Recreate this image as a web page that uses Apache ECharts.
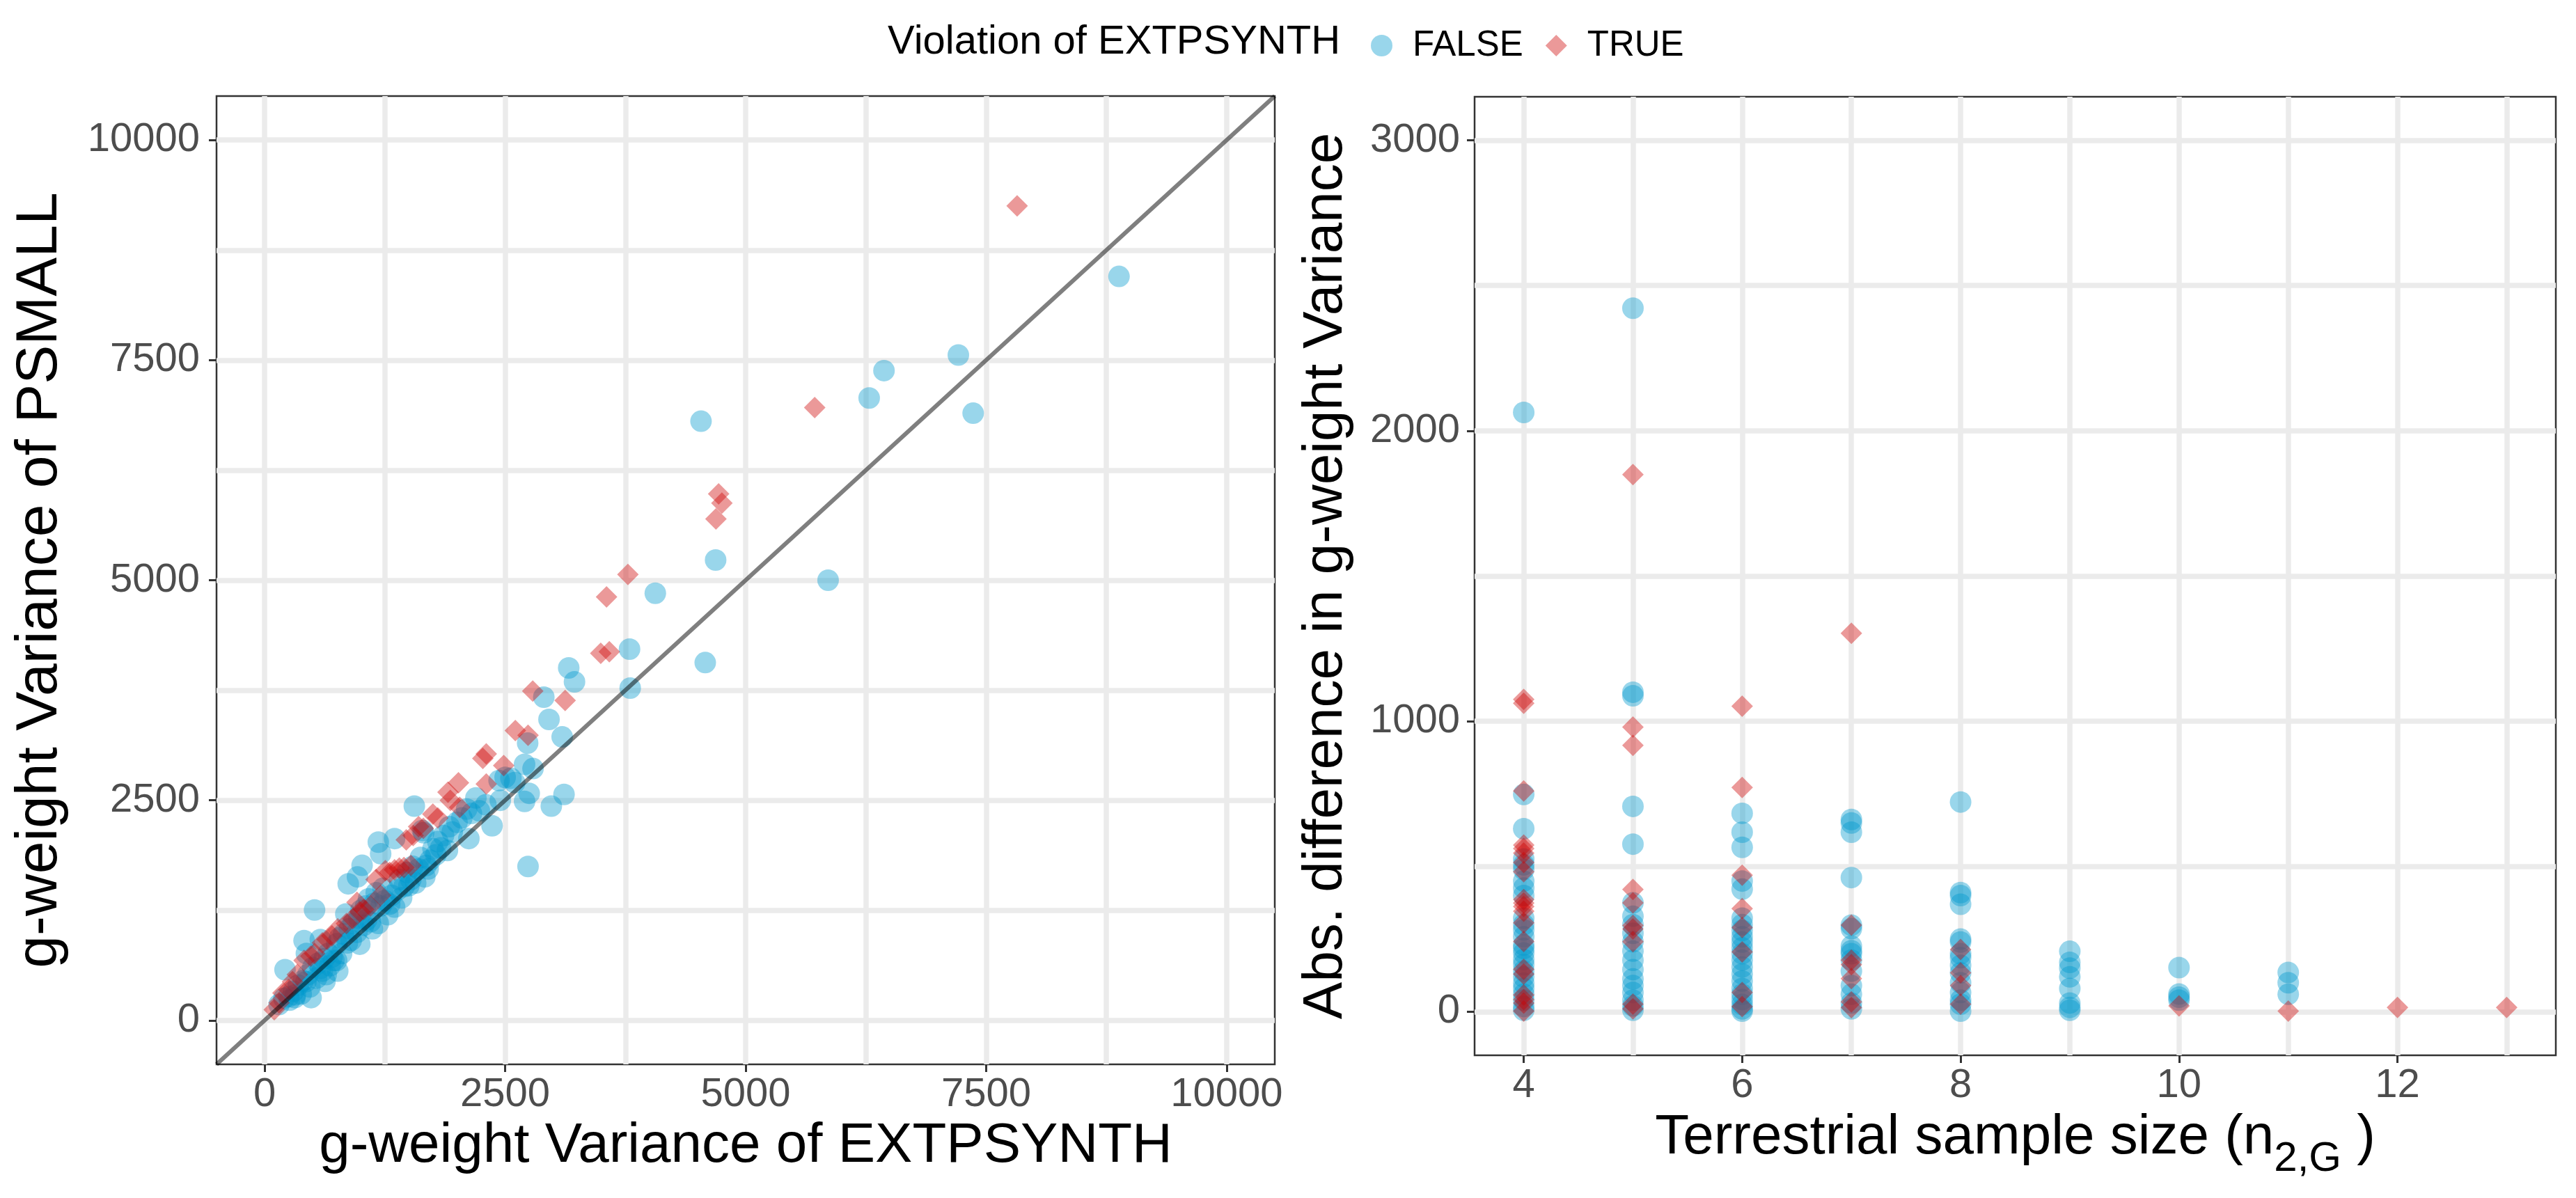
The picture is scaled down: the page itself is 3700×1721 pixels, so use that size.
<!DOCTYPE html>
<html>
<head>
<meta charset="utf-8">
<title>g-weight variance: EXTPSYNTH vs PSMALL</title>
<script src="https://cdn.jsdelivr.net/npm/echarts@6/dist/echarts.min.js"></script>
<style>
    html, body { margin: 0; padding: 0; background: #fff; }
    #chart { width: 3700px; height: 1721px; }
</style>
</head>
<body>
<div id="chart"></div>
<script>
// left panel: [g-weight variance of EXTPSYNTH, g-weight variance of PSMALL]
var varFalse = [
    [150, 180], [200, 250], [212, 575], [250, 270], [260, 230], [300, 330], [314, 258], [320, 290],
    [350, 400], [380, 300], [400, 450], [410, 905], [430, 440], [434, 759], [450, 520], [470, 380],
    [483, 258], [500, 600], [519, 1253], [540, 480], [560, 650], [579, 918], [580, 590], [600, 560],
    [620, 700], [627, 443], [640, 520], [660, 760], [680, 620], [700, 720], [720, 680], [748, 680],
    [750, 870], [760, 560], [780, 940], [800, 760], [820, 980], [844, 1208], [860, 880], [869, 1551],
    [880, 1040], [900, 910], [920, 1100], [965, 1630], [960, 1000], [980, 1160], [989, 865], [1000, 1250],
    [1013, 1761], [1030, 1080], [1050, 1300], [1060, 1140], [1080, 1380], [1100, 1120], [1120, 1040],
    [1140, 1330], [1160, 1450], [1182, 1102], [1182, 2025], [1206, 1893], [1210, 1300], [1230, 1500],
    [1250, 1360], [1280, 1200], [1300, 1320], [1320, 1420], [1351, 1287], [1351, 2065], [1380, 1480],
    [1400, 1600], [1424, 1392], [1450, 1520], [1480, 1680], [1500, 1530], [1520, 1600], [1540, 1750],
    [1556, 2434], [1570, 1560], [1600, 1720], [1620, 1850], [1641, 2157], [1653, 2131], [1665, 1630],
    [1680, 1760], [1700, 1720], [1720, 1820], [1750, 1950], [1780, 1880], [1800, 2030], [1830, 1960],
    [1860, 2100], [1900, 1930], [1920, 2200], [1950, 2140], [2000, 2250], [2050, 2300], [2100, 2400],
    [2123, 2065], [2150, 2350], [2196, 2526], [2232, 2381], [2300, 2450], [2364, 2210], [2437, 2724],
    [2450, 2500], [2500, 2760], [2560, 2750], [2600, 2700], [2702, 2909], [2702, 2487], [2738, 1748],
    [2734, 3149], [2750, 2579], [2790, 2860], [2902, 3671], [2956, 3418], [2980, 2434], [3093, 3220],
    [3112, 2566], [3161, 4003], [3221, 3845], [3800, 3774], [3793, 4217], [4061, 4852], [4580, 4064],
    [4536, 6806], [4688, 5230], [5857, 5000], [6284, 7070], [6438, 7381], [7211, 7558], [7365, 6897],
    [8881, 8451]
];
var varTrue = [
    [100, 120], [150, 200], [190, 310], [250, 350], [290, 440], [340, 520], [410, 680], [480, 730],
    [520, 760], [600, 880], [650, 920], [700, 960], [760, 1040], [850, 1100], [917, 1155], [960, 1340],
    [989, 1234], [1030, 1260], [1100, 1300], [1158, 1600], [1206, 1420], [1255, 1700], [1300, 1680],
    [1351, 1710], [1400, 1730], [1448, 1735], [1472, 2050], [1520, 1760], [1544, 2100], [1600, 2200],
    [1650, 2180], [1749, 2342], [1800, 2300], [1906, 2592], [1930, 2500], [2015, 2698], [2027, 2421],
    [2268, 2975], [2304, 3027], [2304, 2684], [2485, 2895], [2606, 3291], [2738, 3238], [2787, 3740],
    [3124, 3634], [3494, 4169], [3583, 4188], [3554, 4810], [3776, 5066], [4691, 5696], [4719, 5981],
    [4753, 5876], [5718, 6962], [7822, 9253]
];
var identityEnds = [-500, 10500];

// right panel: [terrestrial sample size, abs. difference in g-weight variance]
var diffFalse = [
    [4, 2063], [4, 748], [4, 630], [4, 526], [4, 506], [4, 490], [4, 450], [4, 426], [4, 400], [4, 322],
    [4, 300], [4, 282], [4, 258], [4, 230], [4, 218], [4, 202], [4, 180], [4, 162], [4, 140], [4, 120],
    [4, 98], [4, 80], [4, 60], [4, 40], [4, 18], [4, 5],
    [5, 2422], [5, 1100], [5, 1088], [5, 707], [5, 577], [5, 375], [5, 329], [5, 300], [5, 270], [5, 241],
    [5, 209], [5, 177], [5, 145], [5, 113], [5, 90], [5, 66], [5, 40], [5, 20], [5, 5],
    [6, 683], [6, 618], [6, 566], [6, 450], [6, 422], [6, 322], [6, 300], [6, 280], [6, 258], [6, 240],
    [6, 220], [6, 200], [6, 178], [6, 154], [6, 130], [6, 106], [6, 80], [6, 60], [6, 42], [6, 25], [6, 10], [6, 2],
    [7, 662], [7, 650], [7, 618], [7, 462], [7, 298], [7, 286], [7, 226], [7, 210], [7, 200], [7, 178],
    [7, 140], [7, 90], [7, 60], [7, 30], [7, 10],
    [8, 722], [8, 410], [8, 400], [8, 370], [8, 250], [8, 240], [8, 200], [8, 186], [8, 160], [8, 134],
    [8, 100], [8, 66], [8, 40], [8, 26], [8, 2],
    [9, 208], [9, 170], [9, 150], [9, 120], [9, 80], [9, 30], [9, 15], [9, 5],
    [10, 152], [10, 61], [10, 50], [10, 40],
    [11, 135], [11, 100], [11, 60]
];
var diffTrue = [
    [4, 1075], [4, 1062], [4, 760], [4, 574], [4, 562], [4, 546], [4, 514], [4, 482], [4, 386], [4, 374],
    [4, 362], [4, 346], [4, 306], [4, 242], [4, 146], [4, 130], [4, 58], [4, 42], [4, 30], [4, 2],
    [5, 1849], [5, 980], [5, 917], [5, 421], [5, 375], [5, 297], [5, 285], [5, 241], [5, 26], [5, 10],
    [6, 1052], [6, 772], [6, 470], [6, 355], [6, 290], [6, 206], [6, 66], [6, 18],
    [7, 1303], [7, 298], [7, 178], [7, 162], [7, 114], [7, 34], [7, 14],
    [8, 214], [8, 134], [8, 90], [8, 26],
    [10, 20], [11, 2], [12, 15], [13, 15]
];

// tick values
var varTicks = [0, 2500, 5000, 7500, 10000];
var varMinor = [1250, 3750, 6250, 8750];
var sizeTicks = [4, 6, 8, 10, 12];
var sizeMinor = [5, 7, 9, 11, 13];
var diffTicks = [0, 1000, 2000, 3000];
var diffMinor = [500, 1500, 2500];

var font = '"Liberation Sans", Arial, sans-serif';
var blue = 'rgba(0, 153, 204, 0.5)';
var red = 'rgba(204, 0, 0, 0.5)';
var gridColor = '#EBEBEB';

function mainAxis(gridIndex, min, max, ticks, name, nameGap, margin, nameSize, rich) {
    return {
        type: 'value',
        gridIndex: gridIndex,
        min: min,
        max: max,
        name: name,
        nameLocation: 'middle',
        nameGap: nameGap,
        nameTextStyle: { color: '#000', fontSize: nameSize, fontFamily: font, rich: rich },
        axisLine: { show: false, onZero: false },
        axisTick: { show: true, length: 11, customValues: ticks, lineStyle: { color: '#333333', width: 3 } },
        axisLabel: {
            customValues: ticks,
            margin: margin,
            color: '#4D4D4D',
            fontSize: 58,
            fontFamily: font,
            formatter: function(v) { return String(v); }
        },
        splitLine: { show: true, lineStyle: { color: gridColor, width: 7.5 } }
    };
}
// extra hidden axis, only to draw the minor grid lines
function minorAxis(gridIndex, min, max, ticks, position) {
    return {
        type: 'value',
        gridIndex: gridIndex,
        min: min,
        max: max,
        position: position,
        axisLine: { show: false, onZero: false },
        axisTick: { show: false, customValues: ticks },
        axisLabel: { show: false, customValues: ticks },
        splitLine: { show: true, lineStyle: { color: gridColor, width: 7.5 } }
    };
}

var option = {
    animation: false,
    backgroundColor: '#fff',
    textStyle: { fontFamily: font },
    graphic: [{
        type: 'text',
        x: 1275,
        y: 61,
        style: { text: 'Violation of EXTPSYNTH', fontSize: 58, fontFamily: font, fill: '#000', verticalAlign: 'middle' }
    }],
    legend: {
        left: 1969,
        top: 40,
        padding: 0,
        itemWidth: 31,
        itemHeight: 31,
        itemGap: 32,
        selectedMode: false,
        textStyle: { fontSize: 51, color: '#000', lineHeight: 31, fontFamily: font, padding: [0, 0, 0, 24] },
        data: [{ name: 'FALSE', icon: 'circle' }, { name: 'TRUE', icon: 'diamond' }]
    },
    grid: [
        { left: 311, top: 138, width: 1520, height: 1391, show: true, borderColor: '#333333', borderWidth: 2.5, backgroundColor: 'transparent', outerBoundsMode: 'none' },
        { left: 2118, top: 139, width: 1553, height: 1377, show: true, borderColor: '#333333', borderWidth: 2.5, backgroundColor: 'transparent', outerBoundsMode: 'none' }
    ],
    xAxis: [
        mainAxis(0, -500, 10500, varTicks, 'g-weight Variance of EXTPSYNTH', 78, 15, 80),
        mainAxis(1, 3.55, 13.45, sizeTicks, 'Terrestrial sample size (n{sub|2,G} )', 59, 15, 80,
            { sub: { fontSize: 60, fontFamily: font, color: '#000', padding: [60, 0, 0, 0] } }),
        minorAxis(0, -500, 10500, varMinor, 'top'),
        minorAxis(1, 3.55, 13.45, sizeMinor, 'top')
    ],
    yAxis: [
        mainAxis(0, -500, 10500, varTicks, 'g-weight Variance of PSMALL', 211, 24, 84),
        mainAxis(1, -150, 3150, diffTicks, 'Abs. difference in g-weight Variance', 173, 21, 80),
        minorAxis(0, -500, 10500, varMinor, 'right'),
        minorAxis(1, -150, 3150, diffMinor, 'right')
    ],
    series: [{
        name: 'FALSE',
        type: 'scatter',
        xAxisIndex: 0,
        yAxisIndex: 0,
        symbol: 'circle',
        symbolSize: 31,
        itemStyle: { color: blue },
        data: varFalse
    }, {
        name: 'TRUE',
        type: 'scatter',
        xAxisIndex: 0,
        yAxisIndex: 0,
        symbol: 'diamond',
        symbolSize: 31,
        itemStyle: { color: red },
        data: varTrue
    }, {
        type: 'line',
        xAxisIndex: 0,
        yAxisIndex: 0,
        symbol: 'none',
        silent: true,
        z: 5,
        lineStyle: { color: 'rgba(0, 0, 0, 0.5)', width: 6 },
        data: identityEnds.map(function(v) { return [v, v]; })
    }, {
        name: 'FALSE',
        type: 'scatter',
        xAxisIndex: 1,
        yAxisIndex: 1,
        symbol: 'circle',
        symbolSize: 31,
        itemStyle: { color: blue },
        data: diffFalse
    }, {
        name: 'TRUE',
        type: 'scatter',
        xAxisIndex: 1,
        yAxisIndex: 1,
        symbol: 'diamond',
        symbolSize: 31,
        itemStyle: { color: red },
        data: diffTrue
    }]
};

var chart = echarts.init(document.getElementById('chart'));
chart.setOption(option);
window.onresize = function() {
    chart.resize();
};
</script>
</body>
</html>
